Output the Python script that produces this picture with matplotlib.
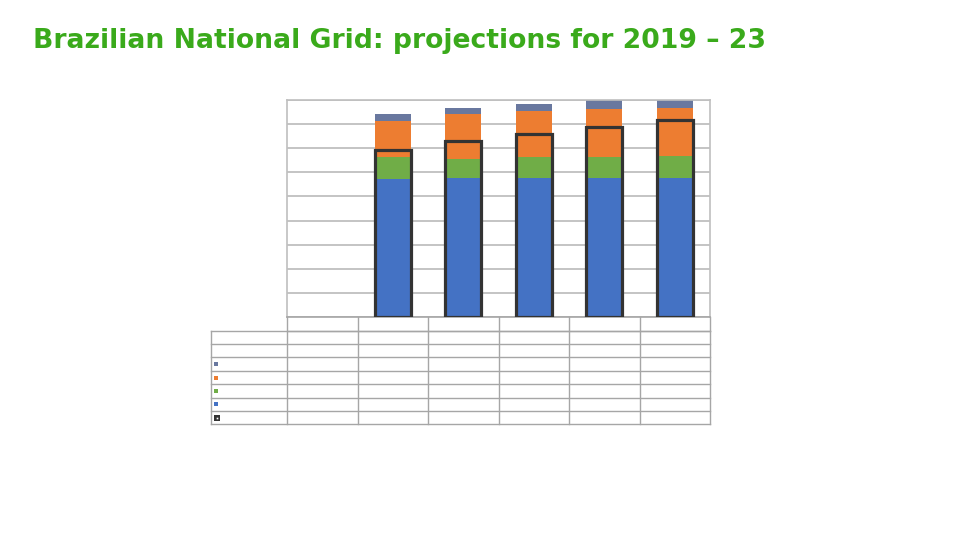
import numpy as np
import matplotlib
matplotlib.use("Agg")
import matplotlib.pyplot as plt

# ---- data ----
positions = [0, 1, 2, 3, 4, 5]          # category slots; the first slot is empty
hydro   = [np.nan, 57.1, 57.5, 57.5, 57.7, 57.7]   # blue
green_s = [np.nan, 9.4, 8.2, 8.7, 8.5, 9.2]        # green
orange_s = [np.nan, 14.9, 18.4, 19.4, 19.9, 19.7]  # orange
gray_s  = [np.nan, 2.9, 2.5, 2.6, 4.0, 4.0]        # slate
demand  = [np.nan, 69.3, 73.1, 75.9, 78.7, 81.7]   # outlined bar
row_keys = ["", "", "slate", "orange", "green", "blue", "outline"]

C_BLUE = "#4472C4"
C_GREEN = "#70AD47"
C_ORANGE = "#ED7D31"
C_GRAY = "#69789F"
C_OUT = "#333333"
C_GRID = "#BFBFBF"

W, H = 960, 540
fig = plt.figure(figsize=(9.6, 5.4), dpi=100)

def fx(px):
    return px / W

def fy(py):
    return 1 - py / H

# plot area
L, R, T, B = 287, 710, 100, 317
ax = fig.add_axes([fx(L), fy(B), fx(R - L), (B - T) / H])
ax.set_xlim(-0.5, 5.5)
ax.set_ylim(0, 90)
ax.set_yticks(np.arange(0, 91, 10))
ax.set_xticks([])
ax.tick_params(left=False, labelleft=False, bottom=False, labelbottom=False)
ax.yaxis.grid(True, color=C_GRID, lw=1.3)
ax.set_axisbelow(True)
for s in ["left", "right", "top"]:
    ax.spines[s].set_color(C_GRID)
    ax.spines[s].set_linewidth(1.2)
ax.spines["bottom"].set_color("#A6A6A6")
ax.spines["bottom"].set_linewidth(1.2)

x = np.array(positions, dtype=float)
h = np.array(hydro)
m = ~np.isnan(h)
x = x[m]
h = h[m]
g = np.array(green_s)[m]
o = np.array(orange_s)[m]
s_ = np.array(gray_s)[m]
d = np.array(demand)[m]
bw = 0.51
ax.bar(x, h, bw, color=C_BLUE, zorder=2)
ax.bar(x, g, bw, bottom=h, color=C_GREEN, zorder=2)
ax.bar(x, o, bw, bottom=h + g, color=C_ORANGE, zorder=2)
ax.bar(x, s_, bw, bottom=h + g + o, color=C_GRAY, zorder=2)
ax.bar(x, d, bw, facecolor="none", edgecolor=C_OUT, linewidth=2.3, zorder=3)

# overlay axes in pixel coordinates for the data table
ov = fig.add_axes([0, 0, 1, 1])
ov.set_xlim(0, W)
ov.set_ylim(H, 0)
ov.axis("off")

TL = 211
row_y = [317, 330.5, 344, 357.4, 370.8, 384.2, 397.6, 411, 424.4]
colw = (R - L) / 6
col_x = [L + k * colw for k in range(7)]
lc = "#A6A6A6"
ov.plot([L, R], [row_y[1], row_y[1]], color=lc, lw=1.0)
for yy in row_y[1:]:
    ov.plot([TL, R], [yy, yy], color=lc, lw=1.0)
ov.plot([TL, TL], [row_y[1], row_y[-1]], color=lc, lw=1.0)
for xx in col_x:
    ov.plot([xx, xx], [row_y[0], row_y[-1]], color=lc, lw=1.0)

key_colors = {"slate": C_GRAY, "orange": C_ORANGE, "green": C_GREEN, "blue": C_BLUE}
for i, key in enumerate(row_keys):
    yc = (row_y[i + 1] + row_y[i + 2]) / 2
    if key in key_colors:
        ov.plot([216], [yc], marker="s", ms=3.0, color=key_colors[key], mew=0)
    elif key == "outline":
        ov.plot([216.5], [yc], marker="s", ms=5.0, mfc=C_OUT, mec=C_OUT, mew=0)
        ov.plot([216.5], [yc], marker="s", ms=1.2, mfc="white", mew=0)

fig.text(fx(33), fy(48), "Brazilian National Grid: projections for 2019 – 23",
         color="#3AAA1B", fontsize=19.2, fontweight="bold", family="DejaVu Sans",
         ha="left", va="baseline")

fig.savefig("out.png", dpi=100)
